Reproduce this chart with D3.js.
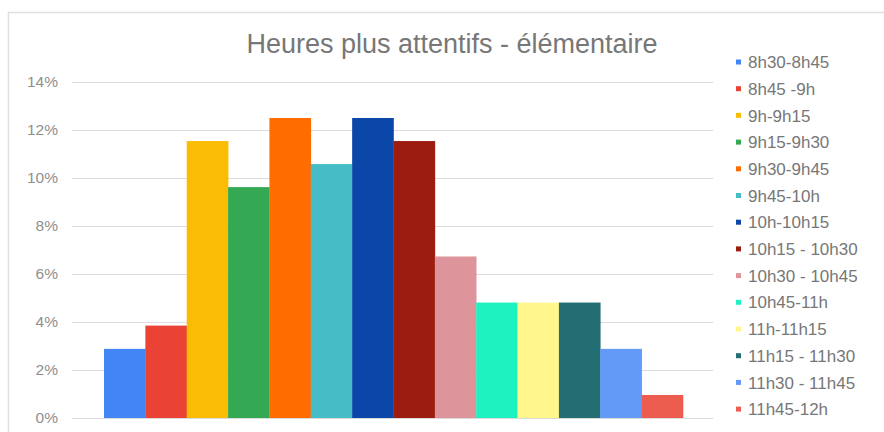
<!DOCTYPE html>
<html><head><meta charset="utf-8">
<script src="https://cdn.jsdelivr.net/npm/d3@7"></script>
<style>html,body{margin:0;padding:0;background:#fff;}svg{display:block;}</style>
</head><body>
<svg id="chart" width="884" height="432"></svg>
<script>
const categories = ["8h30-8h45","8h45 -9h","9h-9h15","9h15-9h30","9h30-9h45","9h45-10h","10h-10h15","10h15 - 10h30","10h30 - 10h45","10h45-11h","11h-11h15","11h15 - 11h30","11h30 - 11h45","11h45-12h"];
const values = [2.88, 3.85, 11.54, 9.62, 12.50, 10.58, 12.50, 11.54, 6.73, 4.81, 4.81, 4.81, 2.88, 0.96];
const colors = ["#4285f4","#ea4335","#fbbc04","#34a853","#ff6d01","#46bdc6","#0b47a8","#9d1c10","#dd949a","#1ff2c1","#fff78e","#226e72","#6399f7","#ec5d50"];
const yTicks = [0,2,4,6,8,10,12,14];
const title = "Heures plus attentifs - élémentaire";

const svg = d3.select("#chart");
const font = "'Liberation Sans', Arial, sans-serif";

// frame
svg.append("path").attr("d","M8.5,432 V12.5 H884").attr("fill","none").attr("stroke","#e0e0e0").attr("stroke-width",1.5);

const plot = {left:72, right:713, top:82, bottom:418};
const y = d3.scaleLinear().domain([0,14]).range([plot.bottom, plot.top]);
const x = d3.scaleBand().domain(categories).range([plot.left, plot.right]).paddingOuter(0.75).paddingInner(0);

// gridlines
svg.append("g").selectAll("line").data(yTicks).join("line")
  .attr("x1",plot.left).attr("x2",plot.right)
  .attr("y1",d=>y(d)+0.5).attr("y2",d=>y(d)+0.5)
  .attr("stroke","#dcdcdc").attr("stroke-width",1);

// y axis labels
const yAxis = d3.axisLeft(y).tickValues(yTicks).tickFormat(d=>d+"%").tickSize(0).tickPadding(0);
const ga = svg.append("g").attr("transform",`translate(58,0)`).call(yAxis);
ga.select(".domain").remove();
ga.selectAll("text").attr("font-family",font).attr("font-size",15.5).attr("fill","#8f8f8f");

// bars
svg.append("g").selectAll("rect").data(values).join("rect")
  .attr("x",(d,i)=>x(categories[i]) + 1)
  .attr("width",x.bandwidth()+0.3)
  .attr("y",d=>y(d))
  .attr("height",d=>y(0)-y(d))
  .attr("fill",(d,i)=>colors[i]);

// title
svg.append("text").attr("x",452).attr("y",53).attr("text-anchor","middle")
  .attr("font-family",font).attr("font-size",27).attr("fill","#777777").text(title);

// legend
const lg = svg.append("g").selectAll("g").data(categories).join("g")
  .attr("transform",(d,i)=>`translate(736,${62 + i*26.7})`);
lg.append("rect").attr("x",0).attr("y",-2.5).attr("width",5).attr("height",5).attr("fill",(d,i)=>colors[i]);
lg.append("text").attr("x",12).attr("y",0).attr("dy","0.36em")
  .attr("font-family",font).attr("font-size",17).attr("fill","#777777").text(d=>d);
</script>
</body></html>
